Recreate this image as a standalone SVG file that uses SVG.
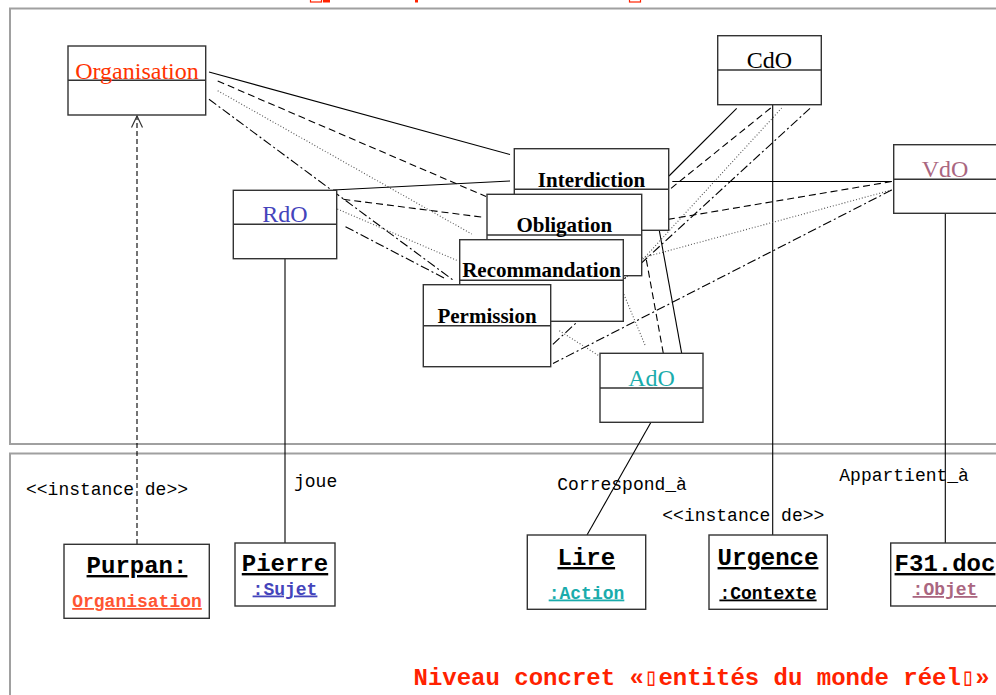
<svg xmlns="http://www.w3.org/2000/svg" width="996" height="695" viewBox="0 0 996 695">
<defs>
<style>
.frame{fill:none;stroke:#a0a0a0;stroke-width:2}
.box{fill:#fff;stroke:#333;stroke-width:1.4}
.div{stroke:#333;stroke-width:1.4}
.cls{font-family:"Liberation Serif","Times New Roman",serif;font-size:24px;text-anchor:middle}
.rel{font-family:"Liberation Serif","Times New Roman",serif;font-size:21px;font-weight:bold;text-anchor:middle;fill:#000}
.inst{font-family:"Liberation Mono","Courier New",monospace;font-size:24px;font-weight:bold;text-anchor:middle;text-decoration:underline;fill:#000}
.typ{font-family:"Liberation Mono","Courier New",monospace;font-size:18px;font-weight:bold;text-anchor:middle;text-decoration:underline}
.lbl{font-family:"Liberation Mono","Courier New",monospace;font-size:18px;fill:#000}
.c{fill:none;stroke:#000;stroke-width:1.1}
.solid{}
.dash{stroke-dasharray:7,4}
.dot{stroke:#555;stroke-dasharray:1,2}
.dd{stroke-dasharray:9,3,2,3}
</style>
<marker id="open" markerWidth="14" markerHeight="14" refX="13" refY="7" orient="auto" markerUnits="userSpaceOnUse" viewBox="0 0 14 14">
<path d="M1.5,1.5 L13,7 L1.5,12.5" fill="none" stroke="#333" stroke-width="1.2"/>
</marker>
</defs>
<rect width="996" height="695" fill="#fff"/>
<g id="frames">
<rect class="frame" x="10" y="8.5" width="1000" height="435.5"/>
<rect class="frame" x="10" y="453.5" width="1000" height="300"/>
</g>
<g id="title-top-fragment" fill="#ff2200" stroke="#ff2200">
<rect x="310.5" y="-3" width="11" height="5" fill="none" stroke-width="1.2"/>
<rect x="323" y="0" width="7" height="2.5" stroke="none"/>
<rect x="415" y="0" width="3" height="2.5" stroke="none"/>
<rect x="629.5" y="-3" width="11" height="5" fill="none" stroke-width="1.2"/>
</g>
<g id="connectors">
<line class="c dash" x1="217.7" y1="81" x2="486" y2="196.5"/>
<line class="c dot" x1="217.7" y1="90.7" x2="471.7" y2="234"/>
<line class="c dd" x1="209" y1="99.3" x2="453" y2="280"/>
<line class="c solid" x1="209" y1="72" x2="510" y2="154.5"/>
<line class="c solid" x1="333" y1="190" x2="510" y2="181"/>
<line class="c dash" x1="343.3" y1="199.3" x2="483.3" y2="217.3"/>
<line class="c dot" x1="337.3" y1="209" x2="458.3" y2="261"/>
<line class="c dd" x1="345.5" y1="226.7" x2="446" y2="279"/>
<line class="c solid" x1="736.7" y1="108.3" x2="669" y2="176"/>
<line class="c dash" x1="770.7" y1="108" x2="641.7" y2="212"/>
<line class="c dot" x1="781.7" y1="108" x2="624" y2="280"/>
<line class="c dd" x1="810" y1="108.3" x2="551" y2="346"/>
<line class="c solid" x1="772.7" y1="105" x2="772.7" y2="535"/>
<line class="c solid" x1="891.7" y1="181.5" x2="672.3" y2="181.5"/>
<line class="c dash" x1="891.7" y1="181.5" x2="641.7" y2="223.8"/>
<line class="c dot" x1="891.7" y1="190" x2="623.3" y2="263"/>
<line class="c dd" x1="891.7" y1="190" x2="553" y2="363.5"/>
<line class="c solid" x1="945.3" y1="213.3" x2="945.3" y2="543"/>
<line class="c solid" x1="681.7" y1="353.3" x2="659.3" y2="230.5"/>
<line class="c dash" x1="663.3" y1="353.3" x2="646" y2="258"/>
<line class="c dot" x1="645" y1="345" x2="623.3" y2="293"/>
<line class="c dot" x1="559.3" y1="330.7" x2="609.3" y2="362.3"/>
<line class="c solid" x1="651" y1="422.3" x2="587" y2="535"/>
<line class="c solid" x1="285" y1="258.7" x2="285" y2="543"/>
<line class="c" x1="137" y1="544" x2="137" y2="116" stroke="#333" stroke-dasharray="5,3" marker-end="url(#open)"/>
</g>
<g id="Organisation">
<rect class="box" x="68" y="46" width="137.7" height="69"/>
<line class="div" x1="68" y1="80.3" x2="205.7" y2="80.3"/>
<text class="cls" x="137" y="79" fill="#ff3300">Organisation</text>
</g>
<g id="RdO">
<rect class="box" x="233.3" y="190.3" width="103.4" height="68.4"/>
<line class="div" x1="233.3" y1="224.3" x2="336.7" y2="224.3"/>
<text class="cls" x="285" y="222" fill="#4444bb">RdO</text>
</g>
<g id="CdO">
<rect class="box" x="717.7" y="35.7" width="103.6" height="69"/>
<line class="div" x1="717.7" y1="70" x2="821.3" y2="70"/>
<text class="cls" x="769.5" y="68" fill="#000">CdO</text>
</g>
<g id="VdO">
<rect class="box" x="893.7" y="144.7" width="110" height="68.6"/>
<line class="div" x1="893.7" y1="179.3" x2="1003.7" y2="179.3"/>
<text class="cls" x="945" y="177" fill="#aa6680">VdO</text>
</g>
<g id="Interdiction">
<rect class="box" x="514.3" y="148.7" width="154.4" height="81.6"/>
<line class="div" x1="514.3" y1="189.3" x2="668.7" y2="189.3"/>
<text class="rel" x="591.5" y="187">Interdiction</text>
</g>
<g id="Obligation">
<rect class="box" x="487" y="194.3" width="154.7" height="81.4"/>
<line class="div" x1="487" y1="235" x2="641.7" y2="235"/>
<text class="rel" x="564.3" y="232">Obligation</text>
</g>
<g id="Recommandation">
<rect class="box" x="459.7" y="239.7" width="163.6" height="81.6"/>
<line class="div" x1="459.7" y1="280.3" x2="623.3" y2="280.3"/>
<text class="rel" x="541.5" y="277">Recommandation</text>
</g>
<g id="Permission">
<rect class="box" x="423.3" y="284.7" width="127.4" height="82"/>
<line class="div" x1="423.3" y1="325.7" x2="550.7" y2="325.7"/>
<text class="rel" x="487" y="323">Permission</text>
</g>
<g id="AdO">
<rect class="box" x="600" y="353.3" width="103" height="69" fill="none"/>
<line class="div" x1="600" y1="388" x2="703" y2="388"/>
<text class="cls" x="651.5" y="386" fill="#1aacac">AdO</text>
</g>
<g id="Purpan">
<rect class="box" x="64" y="544.3" width="145.3" height="74"/>
<text class="inst" x="137" y="573">Purpan:</text>
<text class="typ" x="137" y="607" fill="#ff5533">Organisation</text>
</g>
<g id="Pierre">
<rect class="box" x="235" y="543" width="100" height="63"/>
<text class="inst" x="285" y="571">Pierre</text>
<text class="typ" x="285" y="594.5" fill="#4444bb">:Sujet</text>
</g>
<g id="Lire">
<rect class="box" x="527.3" y="535" width="118.4" height="74.3"/>
<text class="inst" x="586.3" y="565">Lire</text>
<text class="typ" x="586.5" y="598.5" fill="#1aacac">:Action</text>
</g>
<g id="Urgence">
<rect class="box" x="709" y="535" width="118.3" height="74.3"/>
<text class="inst" x="768" y="565">Urgence</text>
<text class="typ" x="768" y="598.5" fill="#000">:Contexte</text>
</g>
<g id="F31doc">
<rect class="box" x="890.7" y="543" width="115" height="63"/>
<text class="inst" x="945" y="571">F31.doc</text>
<text class="typ" x="945" y="595" fill="#aa6680">:Objet</text>
</g>
<g id="labels">
<text class="lbl" x="26" y="495">&lt;&lt;instance de&gt;&gt;</text>
<text class="lbl" x="294" y="487">joue</text>
<text class="lbl" x="557.3" y="490">Correspond_à</text>
<text class="lbl" x="662.3" y="521">&lt;&lt;instance de&gt;&gt;</text>
<text class="lbl" x="839.3" y="481">Appartient_à</text>
<text x="413.5" y="685" font-family="'Liberation Mono','DejaVu Sans Mono',monospace" font-size="24" font-weight="bold" fill="#ff2200">Niveau concret «▯entités du monde réel▯»</text>
</g>
</svg>
